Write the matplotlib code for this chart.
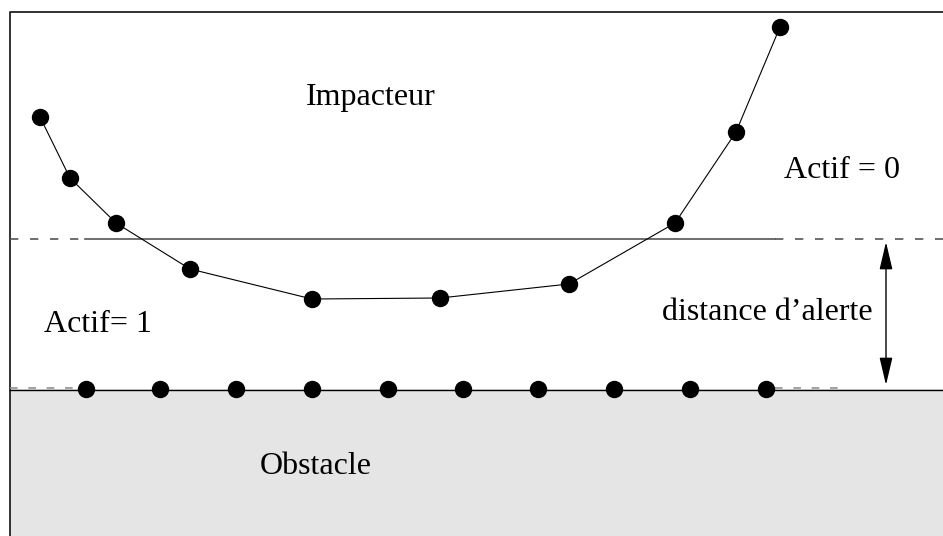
import matplotlib
matplotlib.use("Agg")
import matplotlib.pyplot as plt
from matplotlib.patches import Rectangle

# impacteur nodes (pixel coords of the sketch)
curve_x = [40, 70, 116, 190, 312, 440, 569, 675, 736, 780]
curve_y = [117, 178, 223, 269, 299, 298, 284, 223, 132, 27]

# obstacle nodes
obst_x = [86, 160, 236, 312, 388, 463, 538, 614, 690, 766]
obst_y = [389] * len(obst_x)

alert_y = 239
ground_y = 389

W, H = 943, 536
fig = plt.figure(figsize=(W / 100, H / 100), dpi=100)
ax = fig.add_axes([0, 0, 1, 1])
ax.set_xlim(0, W)
ax.set_ylim(H, 0)
ax.axis("off")

grey = "#555555"
dash = (0, (5.0, 7.0))

# obstacle block
ax.add_patch(Rectangle((9.5, ground_y), W, H - ground_y, facecolor="#e5e5e5",
                       edgecolor="none", zorder=1))

# frame
ax.plot([9.5, 9.5, W], [H, 12, 12], color="#222222", lw=1.3, zorder=2)

# alert line: dashed ends, solid middle
ax.plot([10, 85], [alert_y, alert_y], color=grey, lw=1.2, ls=dash, zorder=2)
ax.plot([85, 775], [alert_y, alert_y], color=grey, lw=1.2, zorder=2)
ax.plot([775, W], [alert_y, alert_y], color=grey, lw=1.2, ls=dash, zorder=2)

# ground line
ax.plot([10, 80], [ground_y - 1.5, ground_y - 1.5], color="#888888", lw=1.1, ls=dash, zorder=2)
ax.plot([775, 840], [ground_y - 1.5, ground_y - 1.5], color="#888888", lw=1.1, ls=dash, zorder=2)
ax.plot([9.5, W], [ground_y + 0.5, ground_y + 0.5], color="black", lw=1.0, zorder=3)

# points
ax.plot(curve_x, curve_y, color="black", lw=0.8, marker="o", ms=11.5, zorder=4)
ax.plot(obst_x, obst_y, ls="none", color="black", marker="o", ms=11.5, zorder=4)

# alert distance arrow
ax.annotate("", xy=(886, alert_y + 3), xytext=(886, ground_y - 4),
            arrowprops=dict(arrowstyle="<|-|>,head_length=1.7,head_width=0.4",
                            color="black", lw=1.0, shrinkA=0, shrinkB=0))

font = dict(family="Liberation Serif", fontsize=23, color="black")
ax.text(371, 97, "Impacteur", ha="center", va="center", **font)
ax.text(842, 170, "Actif = 0", ha="center", va="center", **font)
ax.text(98, 325, "Actif= 1", ha="center", va="center", **font)
ax.text(767, 313, "distance d\u2019alerte", ha="center", va="center", **font)
ax.text(316, 467, "Obstacle", ha="center", va="center", **font)

fig.savefig("out.png", dpi=100)
